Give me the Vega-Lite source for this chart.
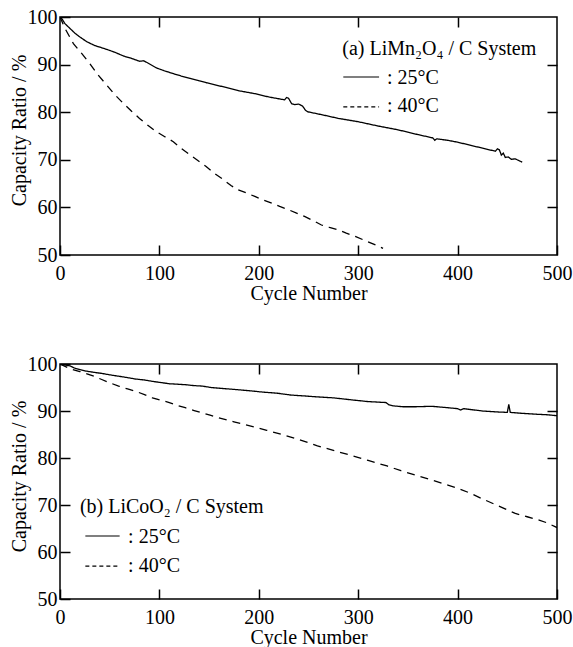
{
  "$schema": "https://vega.github.io/schema/vega-lite/v6.json",
  "padding": {"left": 8, "top": 6, "right": 0, "bottom": 0},
  "spacing": 49,
  "config": {
    "font": "Liberation Serif",
    "view": {"stroke": "black", "strokeWidth": 1.5},
    "axis": {"grid": false, "domain": false, "tickColor": "black", "tickWidth": 1.5, "tickSize": -10, "labelColor": "black", "labelFontSize": 20, "labelFont": "Liberation Serif", "titleFont": "Liberation Serif", "titleFontSize": 20, "titleFontWeight": "normal", "titleColor": "black", "labelFlush": false, "labelOverlap": false},
    "text": {"font": "Liberation Serif", "fontSize": 20}
  },
  "datasets": {
    "curveA": [
      {"temp":"25°C","cycle":0,"capacity":100},{"temp":"25°C","cycle":2,"capacity":99.6},{"temp":"25°C","cycle":5,"capacity":98.6},{"temp":"25°C","cycle":10,"capacity":97.6},{"temp":"25°C","cycle":15,"capacity":96.6},{"temp":"25°C","cycle":20,"capacity":95.8},{"temp":"25°C","cycle":27,"capacity":94.8},{"temp":"25°C","cycle":35,"capacity":94.0},{"temp":"25°C","cycle":47,"capacity":93.2},{"temp":"25°C","cycle":55,"capacity":92.6},{"temp":"25°C","cycle":64,"capacity":91.8},{"temp":"25°C","cycle":72,"capacity":91.3},{"temp":"25°C","cycle":80,"capacity":90.7},{"temp":"25°C","cycle":84,"capacity":90.8},{"temp":"25°C","cycle":87,"capacity":90.5},{"temp":"25°C","cycle":97,"capacity":89.3},{"temp":"25°C","cycle":105,"capacity":88.7},{"temp":"25°C","cycle":114,"capacity":88.1},{"temp":"25°C","cycle":122,"capacity":87.6},{"temp":"25°C","cycle":131,"capacity":87.1},{"temp":"25°C","cycle":140,"capacity":86.6},{"temp":"25°C","cycle":147,"capacity":86.2},{"temp":"25°C","cycle":157,"capacity":85.7},{"temp":"25°C","cycle":167,"capacity":85.2},{"temp":"25°C","cycle":180,"capacity":84.5},{"temp":"25°C","cycle":196,"capacity":83.9},{"temp":"25°C","cycle":210,"capacity":83.2},{"temp":"25°C","cycle":226,"capacity":82.6},{"temp":"25°C","cycle":228,"capacity":83.1},{"temp":"25°C","cycle":230,"capacity":82.9},{"temp":"25°C","cycle":233,"capacity":81.8},{"temp":"25°C","cycle":236,"capacity":81.6},{"temp":"25°C","cycle":240,"capacity":81.7},{"temp":"25°C","cycle":244,"capacity":81.3},{"temp":"25°C","cycle":247,"capacity":80.4},{"temp":"25°C","cycle":249,"capacity":80.1},{"temp":"25°C","cycle":265,"capacity":79.4},{"temp":"25°C","cycle":280,"capacity":78.7},{"temp":"25°C","cycle":300,"capacity":78.0},{"temp":"25°C","cycle":320,"capacity":77.1},{"temp":"25°C","cycle":340,"capacity":76.3},{"temp":"25°C","cycle":360,"capacity":75.3},{"temp":"25°C","cycle":375,"capacity":74.6},{"temp":"25°C","cycle":377,"capacity":74.1},{"temp":"25°C","cycle":379,"capacity":74.4},{"temp":"25°C","cycle":390,"capacity":74.1},{"temp":"25°C","cycle":400,"capacity":73.7},{"temp":"25°C","cycle":420,"capacity":72.7},{"temp":"25°C","cycle":438,"capacity":71.8},{"temp":"25°C","cycle":440,"capacity":72.3},{"temp":"25°C","cycle":442,"capacity":72.1},{"temp":"25°C","cycle":444,"capacity":71.0},{"temp":"25°C","cycle":446,"capacity":71.4},{"temp":"25°C","cycle":448,"capacity":70.5},{"temp":"25°C","cycle":451,"capacity":70.6},{"temp":"25°C","cycle":454,"capacity":70.1},{"temp":"25°C","cycle":458,"capacity":70.2},{"temp":"25°C","cycle":462,"capacity":69.8},{"temp":"25°C","cycle":465,"capacity":69.5},
      {"temp":"40°C","cycle":0,"capacity":100},{"temp":"40°C","cycle":5,"capacity":97.6},{"temp":"40°C","cycle":13.5,"capacity":94.4},{"temp":"40°C","cycle":22,"capacity":92.3},{"temp":"40°C","cycle":30,"capacity":90.2},{"temp":"40°C","cycle":38,"capacity":87.9},{"temp":"40°C","cycle":47,"capacity":85.7},{"temp":"40°C","cycle":55,"capacity":83.7},{"temp":"40°C","cycle":64,"capacity":81.8},{"temp":"40°C","cycle":72,"capacity":80.2},{"temp":"40°C","cycle":80,"capacity":78.7},{"temp":"40°C","cycle":88,"capacity":77.3},{"temp":"40°C","cycle":97,"capacity":75.9},{"temp":"40°C","cycle":105,"capacity":74.9},{"temp":"40°C","cycle":114,"capacity":73.8},{"temp":"40°C","cycle":122,"capacity":72.4},{"temp":"40°C","cycle":131,"capacity":71.0},{"temp":"40°C","cycle":139,"capacity":69.8},{"temp":"40°C","cycle":147,"capacity":68.6},{"temp":"40°C","cycle":155,"capacity":67.2},{"temp":"40°C","cycle":164,"capacity":65.9},{"temp":"40°C","cycle":172,"capacity":64.6},{"temp":"40°C","cycle":179,"capacity":63.7},{"temp":"40°C","cycle":188,"capacity":63.0},{"temp":"40°C","cycle":196,"capacity":62.3},{"temp":"40°C","cycle":204,"capacity":61.6},{"temp":"40°C","cycle":213,"capacity":60.9},{"temp":"40°C","cycle":221,"capacity":60.2},{"temp":"40°C","cycle":230,"capacity":59.5},{"temp":"40°C","cycle":238,"capacity":58.8},{"temp":"40°C","cycle":246,"capacity":58.1},{"temp":"40°C","cycle":255,"capacity":57.2},{"temp":"40°C","cycle":263,"capacity":56.3},{"temp":"40°C","cycle":271,"capacity":55.8},{"temp":"40°C","cycle":280,"capacity":55.3},{"temp":"40°C","cycle":288,"capacity":54.6},{"temp":"40°C","cycle":297,"capacity":53.9},{"temp":"40°C","cycle":305,"capacity":53.2},{"temp":"40°C","cycle":313,"capacity":52.5},{"temp":"40°C","cycle":320,"capacity":51.9},{"temp":"40°C","cycle":325,"capacity":51.4}
    ],
    "curveB": [
      {"temp":"25°C","cycle":0,"capacity":100},{"temp":"25°C","cycle":5,"capacity":99.8},{"temp":"25°C","cycle":10,"capacity":99.6},{"temp":"25°C","cycle":15,"capacity":99.1},{"temp":"25°C","cycle":20,"capacity":98.8},{"temp":"25°C","cycle":26,"capacity":98.5},{"temp":"25°C","cycle":35,"capacity":98.2},{"temp":"25°C","cycle":42,"capacity":98.0},{"temp":"25°C","cycle":50,"capacity":97.7},{"temp":"25°C","cycle":59,"capacity":97.4},{"temp":"25°C","cycle":68,"capacity":97.1},{"temp":"25°C","cycle":76,"capacity":96.8},{"temp":"25°C","cycle":85,"capacity":96.6},{"temp":"25°C","cycle":93,"capacity":96.3},{"temp":"25°C","cycle":100,"capacity":96.1},{"temp":"25°C","cycle":110,"capacity":95.8},{"temp":"25°C","cycle":118,"capacity":95.7},{"temp":"25°C","cycle":126,"capacity":95.6},{"temp":"25°C","cycle":135,"capacity":95.4},{"temp":"25°C","cycle":143,"capacity":95.3},{"temp":"25°C","cycle":152,"capacity":95.0},{"temp":"25°C","cycle":163,"capacity":94.8},{"temp":"25°C","cycle":175,"capacity":94.6},{"temp":"25°C","cycle":191,"capacity":94.3},{"temp":"25°C","cycle":205,"capacity":94.0},{"temp":"25°C","cycle":218,"capacity":93.8},{"temp":"25°C","cycle":232,"capacity":93.4},{"temp":"25°C","cycle":246,"capacity":93.2},{"temp":"25°C","cycle":259,"capacity":93.0},{"temp":"25°C","cycle":275,"capacity":92.8},{"temp":"25°C","cycle":292,"capacity":92.4},{"temp":"25°C","cycle":310,"capacity":92.0},{"temp":"25°C","cycle":328,"capacity":91.8},{"temp":"25°C","cycle":331,"capacity":91.3},{"temp":"25°C","cycle":335,"capacity":91.1},{"temp":"25°C","cycle":345,"capacity":90.9},{"temp":"25°C","cycle":357,"capacity":90.9},{"temp":"25°C","cycle":374,"capacity":91.0},{"temp":"25°C","cycle":390,"capacity":90.7},{"temp":"25°C","cycle":400,"capacity":90.5},{"temp":"25°C","cycle":403,"capacity":90.2},{"temp":"25°C","cycle":406,"capacity":90.5},{"temp":"25°C","cycle":425,"capacity":90.0},{"temp":"25°C","cycle":440,"capacity":89.8},{"temp":"25°C","cycle":450,"capacity":89.7},{"temp":"25°C","cycle":451.5,"capacity":91.4},{"temp":"25°C","cycle":453,"capacity":89.7},{"temp":"25°C","cycle":465,"capacity":89.5},{"temp":"25°C","cycle":480,"capacity":89.3},{"temp":"25°C","cycle":490,"capacity":89.2},{"temp":"25°C","cycle":500,"capacity":89.0},
      {"temp":"40°C","cycle":0,"capacity":100},{"temp":"40°C","cycle":10,"capacity":99.0},{"temp":"40°C","cycle":20,"capacity":98.4},{"temp":"40°C","cycle":26,"capacity":98.0},{"temp":"40°C","cycle":34,"capacity":97.4},{"temp":"40°C","cycle":42,"capacity":96.7},{"temp":"40°C","cycle":50,"capacity":96.0},{"temp":"40°C","cycle":59,"capacity":95.3},{"temp":"40°C","cycle":68,"capacity":94.7},{"temp":"40°C","cycle":76,"capacity":94.2},{"temp":"40°C","cycle":85,"capacity":93.5},{"temp":"40°C","cycle":93,"capacity":92.8},{"temp":"40°C","cycle":101,"capacity":92.3},{"temp":"40°C","cycle":110,"capacity":91.8},{"temp":"40°C","cycle":118,"capacity":91.2},{"temp":"40°C","cycle":126,"capacity":90.7},{"temp":"40°C","cycle":135,"capacity":90.1},{"temp":"40°C","cycle":143,"capacity":89.6},{"temp":"40°C","cycle":151,"capacity":89.1},{"temp":"40°C","cycle":159,"capacity":88.6},{"temp":"40°C","cycle":175,"capacity":87.7},{"temp":"40°C","cycle":192,"capacity":86.8},{"temp":"40°C","cycle":208,"capacity":85.9},{"temp":"40°C","cycle":225,"capacity":84.9},{"temp":"40°C","cycle":242,"capacity":83.8},{"temp":"40°C","cycle":259,"capacity":82.6},{"temp":"40°C","cycle":275,"capacity":81.6},{"temp":"40°C","cycle":292,"capacity":80.6},{"temp":"40°C","cycle":310,"capacity":79.5},{"temp":"40°C","cycle":329,"capacity":78.3},{"temp":"40°C","cycle":343,"capacity":77.3},{"temp":"40°C","cycle":357,"capacity":76.4},{"temp":"40°C","cycle":374,"capacity":75.3},{"temp":"40°C","cycle":391,"capacity":74.2},{"temp":"40°C","cycle":401,"capacity":73.5},{"temp":"40°C","cycle":413,"capacity":72.5},{"temp":"40°C","cycle":425,"capacity":71.3},{"temp":"40°C","cycle":441,"capacity":69.8},{"temp":"40°C","cycle":458,"capacity":68.2},{"temp":"40°C","cycle":470,"capacity":67.5},{"temp":"40°C","cycle":482,"capacity":66.8},{"temp":"40°C","cycle":490,"capacity":66.2},{"temp":"40°C","cycle":500,"capacity":65.2}
    ],
    "keyLinesA": [{"temp":"25°C","x":285,"x2":321,"y":87.4},{"temp":"40°C","x":285,"x2":321,"y":81.1}],
    "keyTextA": [{"label":"(a) LiMn₂O₄ / C System","x":284,"y":92.1},{"label":": 25°C","x":329,"y":86.0},{"label":": 40°C","x":329,"y":80.1}],
    "keyLinesB": [{"temp":"25°C","x":25.5,"x2":60,"y":63.4},{"temp":"40°C","x":25.5,"x2":60,"y":57.0}],
    "keyTextB": [{"label":"(b) LiCoO₂ / C System","x":20,"y":68.2},{"label":": 25°C","x":68.5,"y":62.0},{"label":": 40°C","x":68.5,"y":55.7}]
  },
  "vconcat": [
    {
      "width": 497,
      "height": 238,
      "resolve": {"axis": {"x": "independent", "y": "independent"}, "scale": {"strokeDash": "independent"}},
      "layer": [
        {
          "data": {"name": "curveA"},
          "mark": {"type": "line", "color": "black", "strokeWidth": 1.3, "clip": true},
          "encoding": {
            "x": {"field": "cycle", "type": "quantitative", "scale": {"domain": [0, 500], "nice": false}, "axis": {"orient": "bottom", "title": "Cycle Number", "values": [0, 100, 200, 300, 400, 500], "labelPadding": 18, "titleY": 44, "titleBaseline": "alphabetic"}},
            "y": {"field": "capacity", "type": "quantitative", "scale": {"domain": [50, 100], "nice": false, "zero": false}, "axis": {"orient": "left", "title": "Capacity Ratio / %", "values": [50, 60, 70, 80, 90, 100], "labelPadding": 13, "titleX": -34.5, "titleY": 113, "titleBaseline": "alphabetic"}},
            "strokeDash": {"field": "temp", "type": "nominal", "scale": {"domain": ["25°C", "40°C"], "range": [[1, 0], [8, 6]]}, "legend": null}
          }
        },
        {
          "data": {"name": "keyLinesA"},
          "mark": {"type": "rule", "color": "black", "strokeWidth": 1.2},
          "encoding": {
            "x": {"field": "x", "type": "quantitative", "axis": null},
            "x2": {"field": "x2"},
            "y": {"field": "y", "type": "quantitative", "axis": null},
            "strokeDash": {"field": "temp", "type": "nominal", "scale": {"domain": ["25°C", "40°C"], "range": [[1, 0], [4, 3]]}, "legend": null}
          }
        },
        {
          "data": {"name": "keyTextA"},
          "mark": {"type": "text", "align": "left", "baseline": "alphabetic", "color": "black", "fontSize": 20, "font": "Liberation Serif"},
          "encoding": {
            "x": {"field": "x", "type": "quantitative", "axis": {"orient": "top", "labels": false, "title": null, "values": [100, 200, 300, 400]}},
            "y": {"field": "y", "type": "quantitative", "axis": {"orient": "right", "labels": false, "title": null, "values": [60, 70, 80, 90]}},
            "text": {"field": "label"}
          }
        }
      ]
    },
    {
      "width": 497,
      "height": 235,
      "resolve": {"axis": {"x": "independent", "y": "independent"}, "scale": {"strokeDash": "independent"}},
      "layer": [
        {
          "data": {"name": "curveB"},
          "mark": {"type": "line", "color": "black", "strokeWidth": 1.3, "clip": true},
          "encoding": {
            "x": {"field": "cycle", "type": "quantitative", "scale": {"domain": [0, 500], "nice": false}, "axis": {"orient": "bottom", "title": "Cycle Number", "values": [0, 100, 200, 300, 400, 500], "labelPadding": 18, "titleY": 44, "titleBaseline": "alphabetic"}},
            "y": {"field": "capacity", "type": "quantitative", "scale": {"domain": [50, 100], "nice": false, "zero": false}, "axis": {"orient": "left", "title": "Capacity Ratio / %", "values": [50, 60, 70, 80, 90, 100], "labelPadding": 13, "titleX": -34.5, "titleY": 112, "titleBaseline": "alphabetic"}},
            "strokeDash": {"field": "temp", "type": "nominal", "scale": {"domain": ["25°C", "40°C"], "range": [[1, 0], [8, 6]]}, "legend": null}
          }
        },
        {
          "data": {"name": "keyLinesB"},
          "mark": {"type": "rule", "color": "black", "strokeWidth": 1.2},
          "encoding": {
            "x": {"field": "x", "type": "quantitative", "axis": null},
            "x2": {"field": "x2"},
            "y": {"field": "y", "type": "quantitative", "axis": null},
            "strokeDash": {"field": "temp", "type": "nominal", "scale": {"domain": ["25°C", "40°C"], "range": [[1, 0], [4, 3]]}, "legend": null}
          }
        },
        {
          "data": {"name": "keyTextB"},
          "mark": {"type": "text", "align": "left", "baseline": "alphabetic", "color": "black", "fontSize": 20, "font": "Liberation Serif"},
          "encoding": {
            "x": {"field": "x", "type": "quantitative", "axis": {"orient": "top", "labels": false, "title": null, "values": [100, 200, 300, 400]}},
            "y": {"field": "y", "type": "quantitative", "axis": {"orient": "right", "labels": false, "title": null, "values": [60, 70, 80, 90]}},
            "text": {"field": "label"}
          }
        }
      ]
    }
  ]
}
